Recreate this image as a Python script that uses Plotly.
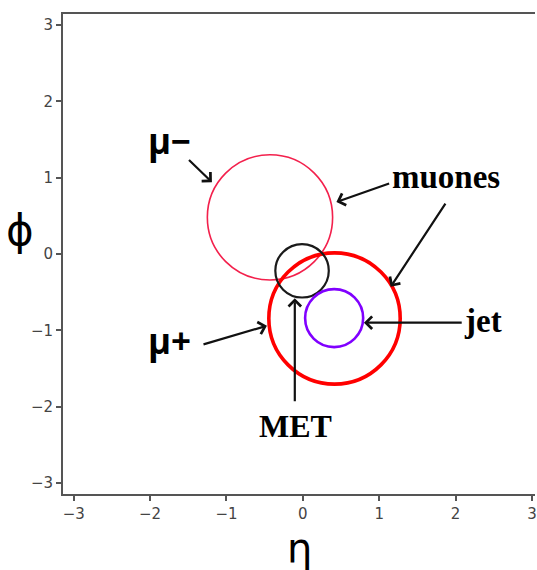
import plotly.graph_objects as go

# ---- data ----
circle_names = ["mu_minus", "mu_plus", "MET", "jet"]
circle_eta = [-0.43, 0.415, -0.01, 0.41]
circle_phi = [0.48, -0.845, -0.22, -0.84]
circle_r = [0.82, 0.86, 0.35, 0.38]

label_texts = ["μ−", "μ+", "muones", "jet", "MET"]
label_eta = [-1.75, -1.75, 1.88, 2.36, -0.10]
label_phi = [1.49, -1.13, 1.01, -0.88, -2.25]

# arrows: (tail_eta, tail_phi) -> (head_eta, head_phi)
arrow_tail_eta = [-1.51, 1.15, 1.88, 2.10, -1.32, -0.105]
arrow_tail_phi = [1.25, 0.93, 0.68, -0.90, -1.19, -1.95]
arrow_head_eta = [-1.19, 0.44, 1.15, 0.80, -0.47, -0.105]
arrow_head_phi = [0.94, 0.68, -0.43, -0.90, -0.94, -0.58]

x_ticks = [-3, -2, -1, 0, 1, 2, 3]
y_ticks = [-3, -2, -1, 0, 1, 2, 3]

# ---- styles ----
circle_colors = ["#f3204c", "#ff0000", "#1a1a1a", "#8000ff"]
circle_widths = [1.6, 3.6, 2.2, 2.6]
label_fonts = ["Open Sans", "Open Sans", "Liberation Serif", "Liberation Serif", "Liberation Serif"]
label_sizes = [35, 35, 33, 33, 32]

fig = go.Figure()
fig.add_trace(go.Scatter(x=[], y=[], showlegend=False))

for cx, cy, r, c, w in zip(circle_eta, circle_phi, circle_r, circle_colors, circle_widths):
    fig.add_shape(type="circle", xref="x", yref="y",
                  x0=cx - r, x1=cx + r, y0=cy - r, y1=cy + r,
                  line=dict(color=c, width=w))

annotations = []
for tx, ty, hx, hy in zip(arrow_tail_eta, arrow_tail_phi, arrow_head_eta, arrow_head_phi):
    annotations.append(dict(x=hx, y=hy, ax=tx, ay=ty, xref="x", yref="y",
                            axref="x", ayref="y", text="", showarrow=True,
                            arrowhead=4, arrowsize=1.1, arrowwidth=2.2,
                            arrowcolor="#111111"))
for t, x, y, f, s in zip(label_texts, label_eta, label_phi, label_fonts, label_sizes):
    annotations.append(dict(x=x, y=y, xref="x", yref="y", text="<b>%s</b>" % t,
                            showarrow=False, xanchor="center", yanchor="middle",
                            font=dict(family=f, size=s, color="#000000")))
# axis titles
annotations.append(dict(x=-0.0907, y=0.548, xref="paper", yref="paper", text="ϕ",
                        showarrow=False, xanchor="center", yanchor="middle",
                        font=dict(family="DejaVu Sans", size=42, color="#000000")))
annotations.append(dict(x=0.5, y=-0.1135, xref="paper", yref="paper", text="η",
                        showarrow=False, xanchor="center", yanchor="middle",
                        font=dict(family="DejaVu Sans", size=40, color="#000000")))

tick_font = dict(family="DejaVu Sans", size=15, color="#444444")
fig.update_layout(
    width=537, height=570,
    margin=dict(l=63, r=0, t=14, b=76),
    paper_bgcolor="white", plot_bgcolor="white",
    showlegend=False,
    annotations=annotations,
    xaxis=dict(range=[-3.14, 3.04], tickvals=x_ticks, showgrid=False, zeroline=False,
               showline=True, mirror=True, linecolor="#555555", linewidth=1.8,
               ticks="outside", ticklen=5, tickwidth=1.5, tickcolor="#555555",
               ticklabeloverflow="allow", tickfont=tick_font),
    yaxis=dict(range=[-3.145, 3.145], tickvals=y_ticks, showgrid=False, zeroline=False,
               showline=True, mirror=False, linecolor="#555555", linewidth=1.8,
               ticks="outside", ticklen=5, tickwidth=1.5, tickcolor="#555555",
               tickfont=tick_font),
)

fig.write_html("out.html")
